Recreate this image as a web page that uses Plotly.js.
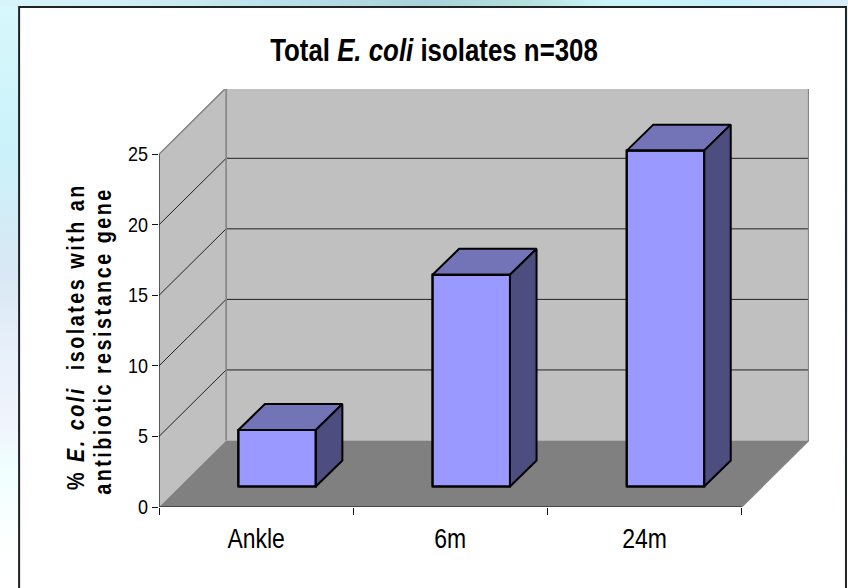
<!DOCTYPE html>
<html><head><meta charset="utf-8">
<script src="https://cdn.plot.ly/plotly-3.0.1.min.js"></script>
<style>
html,body{margin:0;padding:0;width:848px;height:588px;overflow:hidden;
background:
 linear-gradient(90deg,#d8f4fa 0,#cfeff6 15%,#a9d2da 50%,#b4e0dc 62%,#ccf5fb 72%,#c8f0fa 85%,#d8ecfa 100%) top left/848px 6px no-repeat,
 linear-gradient(180deg,#d8f8fc 0,#cbf2fa 26%,#d8e8f4 46%,#e8f0fa 60%,#f0f4fc 72%,#f0ffff 80%,#fdffff 92%,#ffffff 100%);}
#chart{width:848px;height:588px;}
.annotation-text{letter-spacing:2.9px;}
</style></head><body><div id="chart"></div>
<script>
const categories = ['Ankle', '6m', '24m'];
const values = [4, 15, 23.8];
const yTicks = [0, 5, 10, 15, 20, 25];
const titleText = '<b>Total <i>E. coli</i> isolates n=308</b>';
const yTitleLine1 = '<b>% <i>E. coli</i>  isolates with an</b>';
const yTitleLine2 = '<b>antibiotic resistance gene</b>';

const W = 848, H = 588;
const plot = {l: 158.5, r: 809, t: 88.7, b: 507.3};
const pxX = 194.33, pxY = 14.13;           // px per category, px per value unit
const xMax = (plot.r - plot.l) / pxX, yMax = (plot.b - plot.t) / pxY;
const nCat = categories.length, vMax = yTicks[yTicks.length - 1];
const wallDX = 67.2 / pxX, wallDY = 66.6 / pxY;   // depth of the floor
const inDX = 21 / pxX, inDY = 20.6 / pxY;         // bar front inset
const barDX = 26.6 / pxX, barDY = 26 / pxY;       // bar depth
const barW = 77.5 / pxX;

const WALL = '#C0C0C0', FLOOR = '#808080', EDGE = '#858585';
const FRONT = '#9999FF', TOP = '#7373B8', SIDE = '#4D4D80';
const FONT = '"Liberation Sans",Arial,sans-serif';

const poly = (pts, fill, color, width) => ({
  type: 'scatter', mode: 'lines', fill: 'toself', fillcolor: fill,
  x: pts.map(p => p[0]), y: pts.map(p => p[1]),
  line: {color: color, width: width}, hoverinfo: 'skip', showlegend: false, cliponaxis: false
});
const seg = (pts, color, width) => ({
  type: 'scatter', mode: 'lines', x: pts.map(p => p[0]), y: pts.map(p => p[1]),
  line: {color: color, width: width}, hoverinfo: 'skip', showlegend: false, cliponaxis: false
});
const toShape = (pts, fill, color, width) => ({
  type: 'path', xref: 'x', yref: 'y', layer: 'below',
  path: pts.map((p, k) => (k ? 'L' : 'M') + p[0] + ',' + p[1]).join(' '),
  fillcolor: fill, line: {color: color, width: width}
});
const NONE = 'rgba(0,0,0,0)';

// white card, walls, floor, gridlines and axis lines sit under the bars
const shapes = [{type:'rect', xref:'paper', yref:'paper', layer:'below',
  x0:(18.5-plot.l)/(plot.r-plot.l), x1:(846-plot.l)/(plot.r-plot.l),
  y0:(plot.b-H-10)/(plot.b-plot.t), y1:(plot.b-6.5)/(plot.b-plot.t),
  fillcolor:'#ffffff', line:{color:'#222222', width:2}}];
shapes.push(toShape([[0,0],[wallDX,wallDY],[wallDX,vMax+wallDY],[0,vMax],[0,0]], WALL, NONE, 0));
shapes.push(toShape([[wallDX,wallDY],[nCat+wallDX,wallDY],[nCat+wallDX,vMax+wallDY],[wallDX,vMax+wallDY],[wallDX,wallDY]], WALL, NONE, 0));
shapes.push(toShape([[0,0],[nCat,0],[nCat+wallDX,wallDY],[wallDX,wallDY],[0,0]], FLOOR, NONE, 0));
yTicks.slice(1, -1).forEach(v => {
  shapes.push(toShape([[0,v],[wallDX,v+wallDY],[nCat+wallDX,v+wallDY]], NONE, '#222222', 1));
});
shapes.push(toShape([[0,vMax],[wallDX,vMax+wallDY],[nCat+wallDX,vMax+wallDY],[nCat+wallDX,wallDY],[nCat,0]], NONE, EDGE, 1.6));
shapes.push(toShape([[wallDX,wallDY],[wallDX,vMax+wallDY]], NONE, EDGE, 1.6));
shapes.push(toShape([[0,vMax],[0,0],[nCat,0]], NONE, '#111111', 1.2));

// bars: front face via a bar trace, top and side as faces computed from the values
const traces = [{
  type: 'bar', x: categories.map((c, i) => i + 0.5 + inDX), y: values,
  base: values.map(() => inDY), width: barW,
  marker: {color: FRONT, line: {color: '#000000', width: 2}},
  hoverinfo: 'skip', showlegend: false
}];
values.forEach((v, i) => {
  const x0 = i + 0.5 + inDX - barW / 2, x1 = x0 + barW, y0 = inDY, y1 = inDY + v;
  traces.push(poly([[x0,y1],[x1,y1],[x1+barDX,y1+barDY],[x0+barDX,y1+barDY],[x0,y1]], TOP, '#000000', 2));
  traces.push(poly([[x1,y0],[x1+barDX,y0+barDY],[x1+barDX,y1+barDY],[x1,y1],[x1,y0]], SIDE, '#000000', 2));
  traces.push(seg([[x0,y0],[x1,y0],[x1,y1],[x0,y1],[x0,y0]], '#000000', 2));
});

const noteY = py => (plot.b - py) / (plot.b - plot.t);
const noteX = px => (px - plot.l) / (plot.r - plot.l);
const yNote = (text, px, py) => ({
  text, xref:'paper', yref:'paper', x:noteX(px), y:noteY(py), textangle:-90,
  showarrow:false, xanchor:'center', yanchor:'middle',
  font:{family:FONT, size:23, color:'#000'}
});

Plotly.newPlot('chart', traces, {
  width: W, height: H,
  paper_bgcolor: NONE, plot_bgcolor: NONE,
  margin: {l: plot.l, r: W - plot.r, t: plot.t, b: H - plot.b, pad: 0},
  showlegend: false,
  title: {text: titleText, x: 434 / W, xanchor: 'center', y: 1 - 50 / H, yanchor: 'middle',
    font: {family: FONT, size: 31, color: '#000'}},
  xaxis: {range: [0, xMax], tickvals: categories.map((c, i) => i + 0.5), ticktext: categories,
    showgrid: false, zeroline: false, showline: false, ticks: '', ticklabelstandoff: 12,
    tickfont: {family: FONT, size: 28, color: '#000'},
    minor: {tickvals: categories.map((c, i) => i).concat([nCat]), ticks: 'outside', ticklen: 7, tickwidth: 1, tickcolor: '#111', showgrid: false}},
  yaxis: {range: [0, yMax], tickvals: yTicks, showgrid: false, zeroline: false, showline: false,
    ticks: 'outside', ticklen: 6, tickwidth: 1, tickcolor: '#111', ticklabelstandoff: 0,
    tickfont: {family: FONT, size: 20, color: '#000'}},
  shapes,
  annotations: [yNote(yTitleLine1, 75.5, 337), yNote(yTitleLine2, 102.5, 341)]
}, {displayModeBar: false, staticPlot: true}).then(() => {
  // the reference type is horizontally condensed: squeeze each text about an anchor
  const squeeze = (sel, sx, anchor) => document.querySelectorAll(sel).forEach(el => {
    const b = el.getBBox(), t = el.getAttribute('transform') || '';
    const ax = anchor === 'end' ? b.x + b.width : b.x + b.width / 2;
    el.setAttribute('transform', `${t} translate(${ax},0) scale(${sx},1) translate(${-ax},0)`);
  });
  squeeze('.gtitle', 0.834);
  squeeze('.xtick text', 0.82);
  squeeze('.ytick text', 0.9, 'end');
  squeeze('.annotation-text', 0.86);
});
</script></body></html>
